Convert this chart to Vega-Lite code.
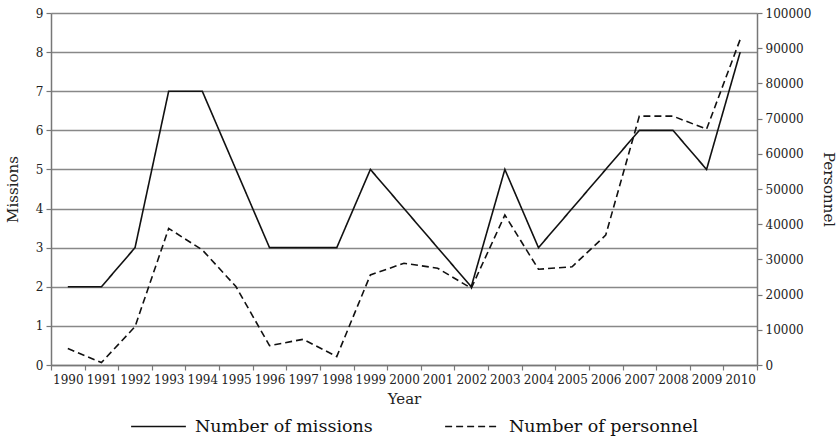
{
  "$schema": "https://vega.github.io/schema/vega-lite/v6.json",
  "width": 706,
  "height": 352,
  "autosize": "none",
  "padding": {"left": 51, "top": 13, "right": 81, "bottom": 78},
  "background": "white",
  "config": {
    "font": "DejaVu Serif",
    "view": {"stroke": null},
    "axis": {
      "labelFont": "DejaVu Serif",
      "titleFont": "DejaVu Serif",
      "labelColor": "#222",
      "titleColor": "#222",
      "labelFontSize": 12,
      "titleFontSize": 15,
      "titleFontWeight": "normal",
      "domainColor": "#777",
      "tickColor": "#777",
      "gridColor": "#888",
      "gridWidth": 1.5,
      "domainWidth": 1.5,
      "tickWidth": 1.2,
      "tickSize": 5
    },
    "legend": {
      "labelFont": "DejaVu Serif",
      "labelFontSize": 17.5,
      "labelColor": "#111"
    }
  },
  "data": {
    "values": [
      {"year": "1990", "missions": 2, "personnel": 4700},
      {"year": "1991", "missions": 2, "personnel": 700},
      {"year": "1992", "missions": 3, "personnel": 10900},
      {"year": "1993", "missions": 7, "personnel": 38800},
      {"year": "1994", "missions": 7, "personnel": 32700},
      {"year": "1995", "missions": 5, "personnel": 22300},
      {"year": "1996", "missions": 3, "personnel": 5500},
      {"year": "1997", "missions": 3, "personnel": 7300},
      {"year": "1998", "missions": 3, "personnel": 2400},
      {"year": "1999", "missions": 5, "personnel": 25600},
      {"year": "2000", "missions": 4, "personnel": 28900},
      {"year": "2001", "missions": 3, "personnel": 27500},
      {"year": "2002", "missions": 2, "personnel": 21800},
      {"year": "2003", "missions": 5, "personnel": 42600},
      {"year": "2004", "missions": 3, "personnel": 27200},
      {"year": "2005", "missions": 4, "personnel": 27900},
      {"year": "2006", "missions": 5, "personnel": 36900},
      {"year": "2007", "missions": 6, "personnel": 70700},
      {"year": "2008", "missions": 6, "personnel": 70700},
      {"year": "2009", "missions": 5, "personnel": 67000},
      {"year": "2010", "missions": 8, "personnel": 92500}
    ]
  },
  "encoding": {
    "x": {
      "field": "year",
      "type": "ordinal",
      "title": "Year",
      "scale": {"paddingInner": 0, "paddingOuter": 0},
      "axis": {"labelAngle": 0, "tickBand": "extent", "grid": false, "labelPadding": 4, "titlePadding": 6}
    }
  },
  "layer": [
    {
      "mark": {"type": "line", "color": "#111", "strokeWidth": 1.6},
      "encoding": {
        "y": {
          "field": "missions",
          "type": "quantitative",
          "title": "Missions",
          "scale": {"domain": [0, 9]},
          "axis": {"tickCount": 9, "grid": true, "labelPadding": 3, "titlePadding": 15}
        },
        "strokeDash": {
          "datum": "Number of missions",
          "type": "nominal",
          "scale": {"domain": ["Number of missions", "Number of personnel"], "range": [[1, 0], [7, 4]]},
          "legend": {
            "title": null,
            "orient": "none",
            "legendX": 79,
            "legendY": 385,
            "direction": "horizontal",
            "symbolType": "stroke",
            "symbolSize": 3000,
            "symbolStrokeWidth": 1.6,
            "symbolStrokeColor": "#111",
            "labelOffset": 8,
            "columnPadding": 68,
            "labelLimit": 300
          }
        }
      }
    },
    {
      "mark": {"type": "line", "color": "#111", "strokeWidth": 1.6},
      "encoding": {
        "y": {
          "field": "personnel",
          "type": "quantitative",
          "title": "Personnel",
          "scale": {"domain": [0, 100000]},
          "axis": {"orient": "right", "tickCount": 10, "grid": false, "format": "d", "labelPadding": 3, "titlePadding": 10}
        },
        "strokeDash": {"datum": "Number of personnel", "type": "nominal"}
      }
    }
  ],
  "resolve": {"scale": {"y": "independent"}}
}
